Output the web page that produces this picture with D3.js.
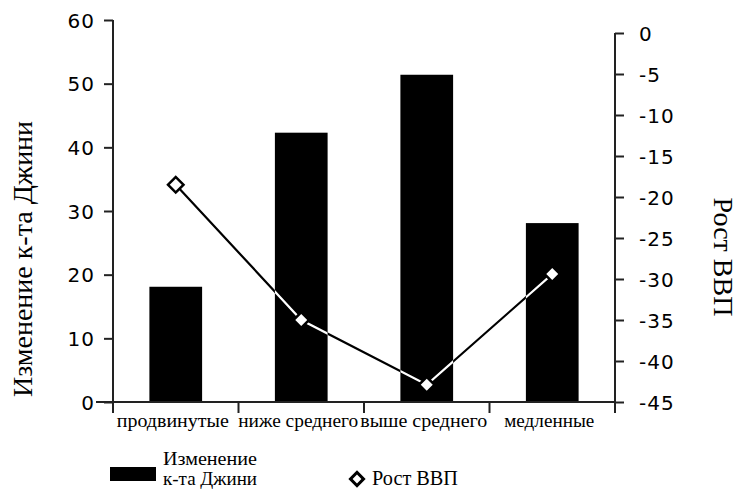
<!DOCTYPE html>
<html><head><meta charset="utf-8">
<script src="https://cdn.jsdelivr.net/npm/d3@7"></script>
</head><body style="margin:0">
<svg id="chart" width="741" height="494"></svg>
<script>
const categories = ["продвинутые", "ниже среднего", "выше среднего", "медленные"];
const giniChange = [18.1, 42.3, 51.4, 28.1];
const gdpGrowth = [-18.5, -35.0, -42.9, -29.4];
const leftTicks = [0, 10, 20, 30, 40, 50, 60];
const rightTicks = [0, -5, -10, -15, -20, -25, -30, -35, -40, -45];
const leftTitle = "Изменение к-та Джини";
const rightTitle = "Рост ВВП";
const legendBar = ["Изменение", "к-та Джини"];
const legendLine = "Рост ВВП";
const labelWidths = [112, 120, 127, 90];

const SERIF = d => '"Liberation Serif"';
const SANS = d => '"DejaVu Sans"';

const svg = d3.select("#chart");
const x = d3.scaleBand().domain(categories).range([113, 615]).padding(0);
const yL = d3.scaleLinear().domain([0, 60]).range([402, 20]);
const yR = d3.scaleLinear().domain([-45, 0]).range([402, 33]);
const barW = x.bandwidth() * 0.42;

svg.append("g").selectAll("rect").data(categories).join("rect")
  .attr("x", d => x(d) + (x.bandwidth() - barW) / 2)
  .attr("width", barW)
  .attr("y", (d, i) => yL(giniChange[i]))
  .attr("height", (d, i) => yL(0) - yL(giniChange[i]))
  .attr("fill", "#000");

const clip = svg.append("clipPath").attr("id", "barclip");
clip.selectAll("rect").data(categories).join("rect")
  .attr("x", d => x(d) + (x.bandwidth() - barW) / 2)
  .attr("width", barW)
  .attr("y", (d, i) => yL(giniChange[i]))
  .attr("height", (d, i) => yL(0) - yL(giniChange[i]));

const axisColor = "#222";
const fmt = d => String(d);
const gL = svg.append("g").attr("transform", "translate(113,0)")
  .call(d3.axisLeft(yL).tickValues(leftTicks).tickSize(9).tickPadding(9).tickFormat(fmt));
gL.select(".domain").remove();
gL.selectAll("line").attr("stroke", axisColor).attr("stroke-width", 2);
gL.selectAll("text").style("font-family", SANS).attr("font-size", 20).attr("letter-spacing", 1).attr("fill", "#000").attr("dy", "0.35em");

const gR = svg.append("g").attr("transform", "translate(615,0)")
  .call(d3.axisRight(yR).tickValues(rightTicks).tickSize(9).tickPadding(15).tickFormat(fmt));
gR.select(".domain").remove();
gR.selectAll("line").attr("stroke", axisColor).attr("stroke-width", 2);
gR.selectAll("text").style("font-family", SANS).attr("font-size", 20).attr("letter-spacing", 1).attr("fill", "#000").attr("dy", "0.35em");

const ax = svg.append("g").attr("stroke", axisColor).attr("stroke-width", 2);
ax.append("line").attr("x1", 113).attr("x2", 113).attr("y1", yL(60)).attr("y2", yL(0) + 11);
ax.append("line").attr("x1", 615).attr("x2", 615).attr("y1", yR(0)).attr("y2", yR(-45) + 11);
ax.append("line").attr("x1", 96).attr("x2", 615).attr("y1", yL(0)).attr("y2", yL(0));
ax.selectAll("line.tk").data(categories.slice(1)).join("line").attr("class", "tk")
  .attr("x1", d => x(d)).attr("x2", d => x(d)).attr("y1", yL(0)).attr("y2", yL(0) + 11);

svg.selectAll("text.cat").data(categories).join("text").attr("class", "cat")
  .attr("x", d => x(d) + x.bandwidth() / 2 - 3)
  .attr("y", 427)
  .attr("text-anchor", "middle")
  .attr("font-size", 18)
  .attr("textLength", (d, i) => labelWidths[i]).attr("lengthAdjust", "spacingAndGlyphs")
  .style("font-family", SERIF)
  .text(d => d);

const line = d3.line().x((d, i) => x(categories[i]) + x.bandwidth() / 2).y(d => yR(d));
svg.append("path").datum(gdpGrowth).attr("d", line).attr("fill", "none").attr("stroke", "#000").attr("stroke-width", 2.2);
svg.append("path").datum(gdpGrowth).attr("d", line).attr("fill", "none").attr("stroke", "#fff").attr("stroke-width", 2.2).attr("clip-path", "url(#barclip)");

const diamond = d3.symbol().type(d3.symbolSquare).size(120);
svg.append("g").selectAll("path").data(gdpGrowth).join("path")
  .attr("d", diamond)
  .attr("transform", (d, i) => `translate(${x(categories[i]) + x.bandwidth() / 2},${yR(d)}) rotate(45)`)
  .attr("fill", "#fff").attr("stroke", "#000").attr("stroke-width", 2.5);

svg.selectAll("text.ttl").data([[leftTitle, "translate(32,259) rotate(-90)"], [rightTitle, "translate(714,257) rotate(90)"]])
  .join("text").attr("class", "ttl")
  .attr("transform", d => d[1])
  .attr("text-anchor", "middle").attr("font-size", 28)
  .style("font-family", SERIF)
  .text(d => d[0]);

svg.append("rect").attr("x", 110).attr("y", 467).attr("width", 46).attr("height", 14).attr("fill", "#000");
svg.selectAll("text.lb").data(legendBar).join("text").attr("class", "lb")
  .attr("x", 163).attr("y", (d, i) => 465 + i * 20)
  .attr("font-size", 19)
  .attr("textLength", 94).attr("lengthAdjust", "spacingAndGlyphs")
  .style("font-family", SERIF)
  .text(d => d);
svg.append("path").attr("d", d3.symbol().type(d3.symbolSquare).size(85))
  .attr("transform", "translate(357,479) rotate(45)")
  .attr("fill", "#fff").attr("stroke", "#000").attr("stroke-width", 3);
svg.selectAll("text.ll").data([legendLine]).join("text").attr("class", "ll")
  .attr("x", 372).attr("y", 485)
  .attr("font-size", 20)
  .attr("textLength", 86).attr("lengthAdjust", "spacingAndGlyphs")
  .style("font-family", SERIF)
  .text(d => d);
</script>
</body></html>
